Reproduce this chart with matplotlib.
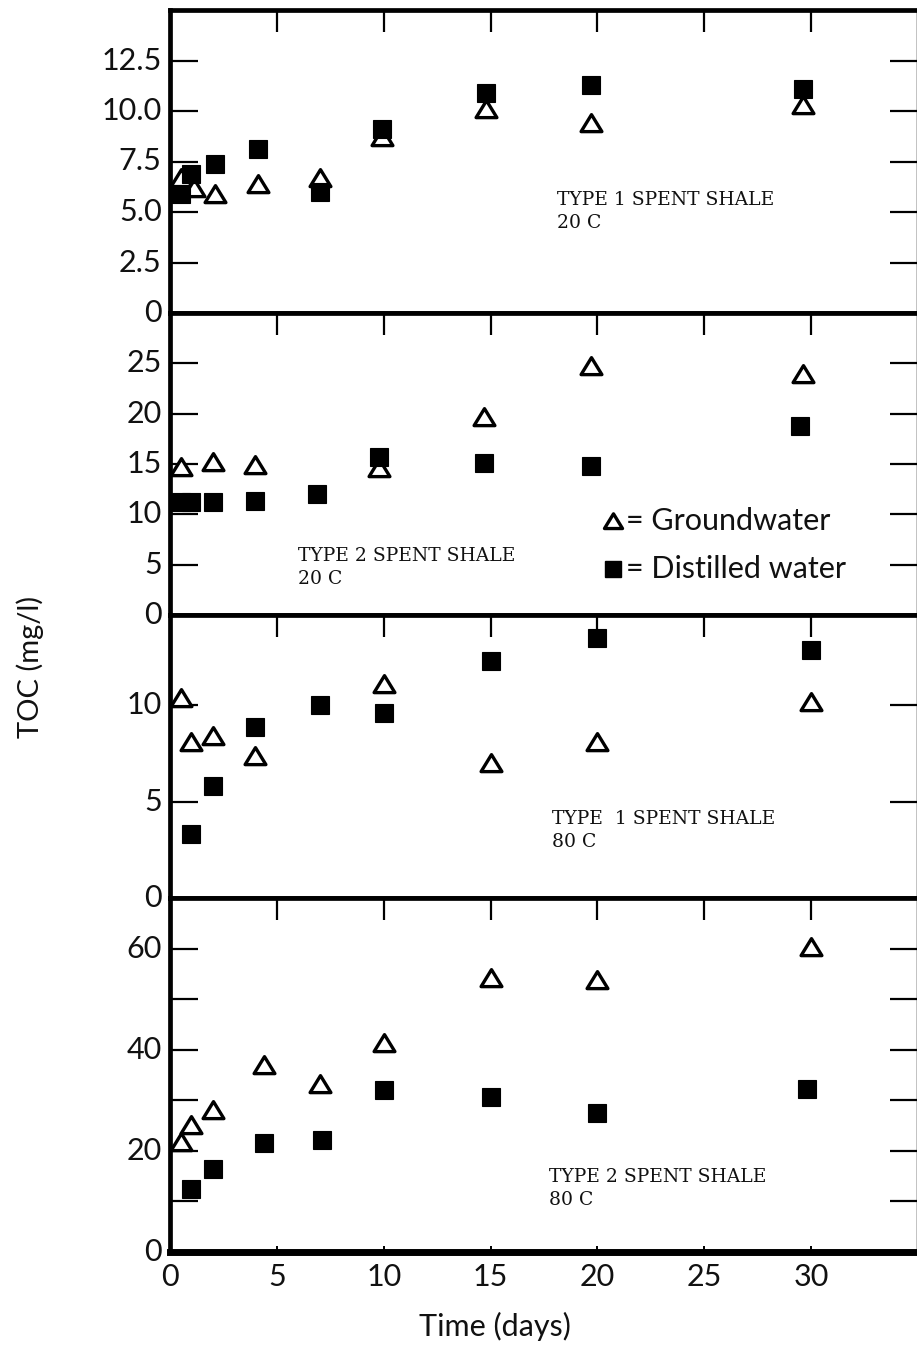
import matplotlib
matplotlib.use("Agg")
import matplotlib.pyplot as plt
from matplotlib.path import Path

# --- data: TOC (mg/l) versus leaching time (days) ---
# Type 1 spent shale, 20 C
t1_20_gw_days = [0.5, 1.1, 2.1, 4.1, 7.0, 9.9, 14.8, 19.7, 29.6]
t1_20_gw_toc = [6.7, 6.2, 5.9, 6.4, 6.7, 8.7, 10.1, 9.4, 10.3]
t1_20_dw_days = [0.5, 1.0, 2.1, 4.1, 7.0, 9.9, 14.8, 19.7, 29.6]
t1_20_dw_toc = [5.9, 6.9, 7.4, 8.1, 6.0, 9.1, 10.9, 11.3, 11.1]

# Type 2 spent shale, 20 C
t2_20_gw_days = [0.5, 2.0, 4.0, 9.8, 14.7, 19.7, 29.6]
t2_20_gw_toc = [14.7, 15.2, 14.9, 14.6, 19.7, 24.7, 23.9]
t2_20_dw_days = [0.5, 1.0, 2.0, 4.0, 6.9, 9.8, 14.7, 19.7, 29.5]
t2_20_dw_toc = [11.2, 11.2, 11.2, 11.3, 12.0, 15.7, 15.1, 14.8, 18.8]

# Type 1 spent shale, 80 C
t1_80_gw_days = [0.5, 1.0, 2.0, 4.0, 10.0, 15.0, 20.0, 30.0]
t1_80_gw_toc = [10.4, 8.1, 8.4, 7.4, 11.1, 7.0, 8.1, 10.2]
t1_80_dw_days = [1.0, 2.0, 4.0, 7.0, 10.0, 15.0, 20.0, 30.0]
t1_80_dw_toc = [3.3, 5.8, 8.9, 10.0, 9.6, 12.3, 13.5, 12.9]

# Type 2 spent shale, 80 C
t2_80_gw_days = [0.5, 1.0, 2.0, 4.4, 7.0, 10.0, 15.0, 20.0, 30.0]
t2_80_gw_toc = [21.7, 25.2, 28.0, 36.9, 33.3, 41.4, 54.2, 53.8, 60.4]
t2_80_dw_days = [1.0, 2.0, 4.4, 7.1, 10.0, 15.0, 20.0, 29.8]
t2_80_dw_toc = [12.4, 16.4, 21.5, 22.1, 32.0, 30.6, 27.4, 32.3]

panel_titles = ["TYPE 1 SPENT SHALE\n20 C", "TYPE 2 SPENT SHALE\n20 C",
                "TYPE  1 SPENT SHALE\n80 C", "TYPE 2 SPENT SHALE\n80 C"]
y_limits = [15.0, 30.0, 14.7, 70.0]
y_tick_marks = [[2.5, 5, 7.5, 10, 12.5], [5, 10, 15, 20, 25], [5, 10],
                [10, 20, 30, 40, 50, 60]]
y_label_vals = [[0, 2.5, 5, 7.5, 10, 12.5], [0, 5, 10, 15, 20, 25], [0, 5, 10],
                [0, 20, 40, 60]]
y_label_text = [["0", "2.5", "5.0", "7.5", "10.0", "12.5"],
                ["0", "5", "10", "15", "20", "25"],
                ["0", "5", "10"],
                ["0", "20", "40", "60"]]
x_ticks = [0, 5, 10, 15, 20, 25, 30]
x_tick_text = ["0", "5", "10", "15", "20", "25", "30"]
legend_labels = ["= Groundwater", "= Distilled water"]

series = [
    (t1_20_gw_days, t1_20_gw_toc, t1_20_dw_days, t1_20_dw_toc),
    (t2_20_gw_days, t2_20_gw_toc, t2_20_dw_days, t2_20_dw_toc),
    (t1_80_gw_days, t1_80_gw_toc, t1_80_dw_days, t1_80_dw_toc),
    (t2_80_gw_days, t2_80_gw_toc, t2_80_dw_days, t2_80_dw_toc),
]

W, H = 917, 1346
fig = plt.figure(figsize=(W / 100, H / 100), dpi=100)
fig.patch.set_facecolor("white")

SANS = ["Lato", "DejaVu Sans"]
SERIF = ["DejaVu Serif"]
INK = "#111111"

# open triangle, a little wider than tall
tri = Path([(-1.0, -0.78), (1.0, -0.78), (0.0, 0.85), (-1.0, -0.78)],
           [Path.MOVETO, Path.LINETO, Path.LINETO, Path.CLOSEPOLY])

# panel edges in pixels (top, bottom)
bands = [(10, 313), (313, 615), (615, 898), (898, 1252)]
left_px, right_px = 170, 918
title_pos = [(557, 191), (298, 547), (552, 810), (549, 1168)]

axes = []
for i, (top, bot) in enumerate(bands):
    ax = fig.add_axes([left_px / W, 1 - bot / H, (right_px - left_px) / W,
                       (bot - top) / H])
    axes.append(ax)
    gx, gy, dx, dy = series[i]
    ax.plot(gx, gy, linestyle="none", marker=tri, markersize=15,
            markerfacecolor="white", markeredgecolor="black",
            markeredgewidth=2.4, zorder=3)
    ax.plot(dx, dy, linestyle="none", marker="s", markersize=12.5,
            markerfacecolor="black", markeredgecolor="black",
            markeredgewidth=0.8, zorder=4)
    ax.set_xlim(0, 35)
    ax.set_ylim(0, y_limits[i])

    for s in ax.spines.values():
        s.set_linewidth(3.4)
    if i == 3:
        ax.spines["bottom"].set_linewidth(5)
    ax.spines["right"].set_linewidth(2.5)

    # y: inward marks on both sides, labels on the left
    ax.set_yticks(y_tick_marks[i])
    ax.tick_params(axis="y", which="major", direction="in", left=True,
                   right=True, length=20, width=1.6, labelleft=False)
    for v, txt in zip(y_label_vals[i], y_label_text[i]):
        ax.annotate(txt, xy=(0, v), xycoords=("axes fraction", "data"),
                    xytext=(-6, 0), textcoords="offset points",
                    ha="right", va="center", fontsize=22, family=SANS,
                    color=INK)

    # x: long inward marks along the top of every panel
    sec = ax.secondary_xaxis("top")
    sec.set_xticks(x_ticks[1:])
    sec.tick_params(direction="in", length=16, width=1.6, labeltop=False)
    sec.spines["top"].set_visible(False)

    if i == 3:
        ax.set_xticks(x_ticks)
        ax.set_xticklabels(x_tick_text, fontsize=22, family=SANS, color=INK)
        ax.tick_params(axis="x", direction="in", bottom=True, top=False,
                       length=4, width=1.4, pad=8)
    else:
        ax.set_xticks([])

    tx, ty = title_pos[i]
    fig.text(tx / W, 1 - ty / H, panel_titles[i], family=SERIF, fontsize=13.5,
             ha="left", va="top", linespacing=1.35, color=INK)

# legend drawn as markers and text in the second panel
ax2 = axes[1]
leg_x = (613 - left_px) / (right_px - left_px) * 35
leg_y = [9.3, 4.6]
ax2.plot([leg_x], [leg_y[0]], linestyle="none", marker=tri, markersize=13,
         markerfacecolor="white", markeredgecolor="black",
         markeredgewidth=2.4, clip_on=False)
ax2.plot([leg_x], [leg_y[1]], linestyle="none", marker="s", markersize=11,
         markerfacecolor="black", markeredgecolor="black", clip_on=False)
for yv, lab in zip(leg_y, legend_labels):
    ax2.annotate(lab, xy=(leg_x, yv), xytext=(9, 0),
                 textcoords="offset points", ha="left", va="center",
                 fontsize=22, family=SANS, color=INK)

fig.text(30 / W, 1 - 667 / H, "TOC (mg/l)", rotation=90, ha="center",
         va="center", fontsize=21, family=SANS, color=INK)
fig.text(495 / W, 1 - 1326 / H, "Time (days)", ha="center", va="center",
         fontsize=22, family=SANS, color=INK)

fig.savefig("out.png", dpi=100, facecolor="white")
